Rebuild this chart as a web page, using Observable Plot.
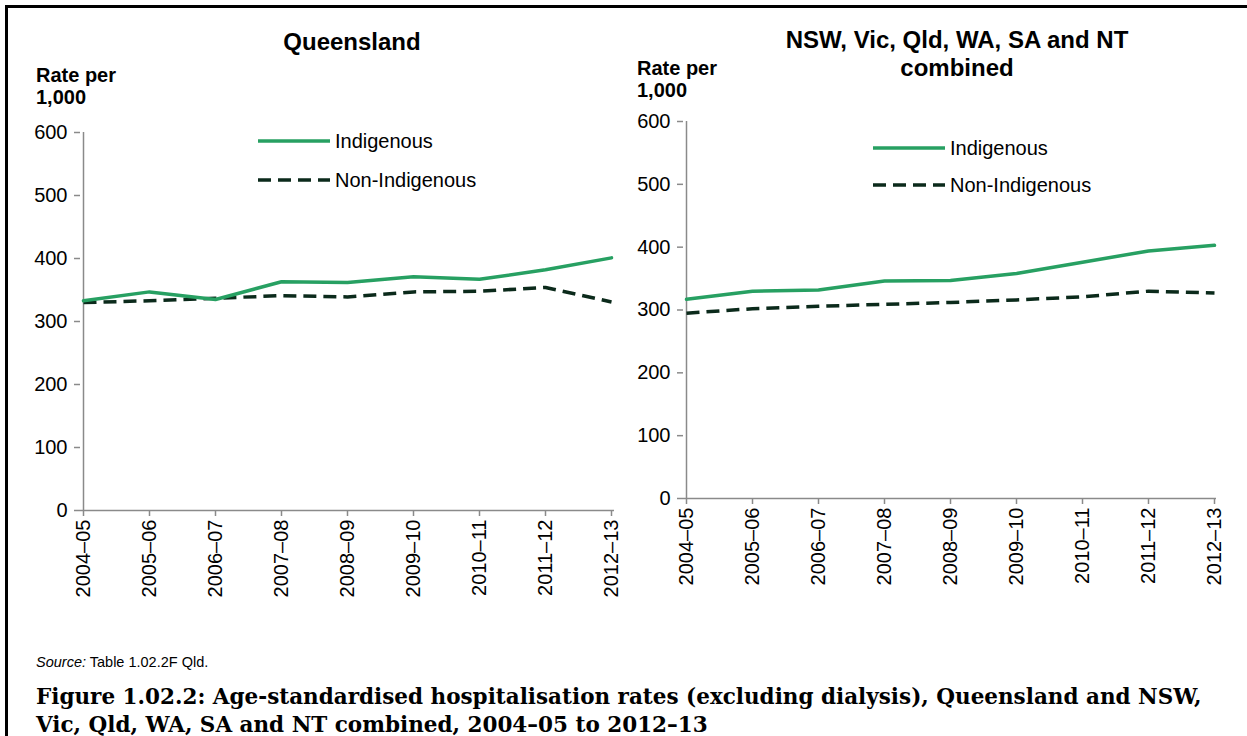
<!DOCTYPE html>
<html><head><meta charset="utf-8">
<script src="https://cdn.jsdelivr.net/npm/d3@7"></script>
<script src="https://cdn.jsdelivr.net/npm/@observablehq/plot@0.6"></script>
<style>
body{margin:0;background:#fff;width:1247px;height:736px;position:relative;overflow:hidden;font-family:"Liberation Sans",Arial,sans-serif;color:#000;}
.abs{position:absolute;white-space:nowrap;line-height:1;}
.title{font-weight:bold;font-size:24px;text-align:center;}
.ylab{font-weight:bold;font-size:20px;line-height:22px;}
.leg{font-size:20px;display:flex;align-items:center;}
.leg svg{display:block;margin-right:5px;}
[aria-label="x-axis tick"],[aria-label="y-axis tick"]{stroke:#8a8a8a;stroke-width:1.5px;}
[aria-label="x-axis"] .tick line,[aria-label="y-axis"] .tick line{stroke:#8a8a8a;stroke-width:1.5px;}
.cap{font-family:"DejaVu Serif",serif;font-weight:bold;font-size:21.5px;line-height:28px;}
</style></head><body>
<div style="position:absolute;left:5px;top:5px;width:1400px;height:900px;border-top:3px solid #000;border-left:3px solid #000;"></div>
<div id="left" class="abs" style="left:0;top:0"></div>
<div id="right" class="abs" style="left:603px;top:0"></div>

<div class="abs title" style="left:252px;top:30px;width:200px;">Queensland</div>
<div class="abs title" style="left:757px;top:26px;width:400px;line-height:28px;">NSW, Vic, Qld, WA, SA and NT<br>combined</div>

<div class="abs ylab" style="left:36px;top:64px;">Rate per<br>1,000</div>
<div class="abs ylab" style="left:637px;top:57px;">Rate per<br>1,000</div>

<div id="legL" class="abs" style="left:258px;top:128px;"></div>
<div id="legR" class="abs" style="left:873px;top:135px;"></div>

<div class="abs" style="left:36px;top:655px;font-size:14.5px;"><i>Source:</i> Table 1.02.2F Qld.</div>
<div class="abs cap" style="left:36px;top:683px;">Figure 1.02.2: Age-standardised hospitalisation rates (excluding dialysis), Queensland and NSW,<br>Vic, Qld, WA, SA and NT combined, 2004–05 to 2012–13</div>

<script>
const years = ["2004–05","2005–06","2006–07","2007–08","2008–09","2009–10","2010–11","2011–12","2012–13"];
const yTicks = [0,100,200,300,400,500,600];
const seriesNames = ["Indigenous","Non-Indigenous"];
const qldIndigenous    = [333,347,335,363,362,371,367,382,401];
const qldNonIndigenous = [330,333,337,341,339,347,348,354,331];
const comIndigenous    = [317,330,332,346,347,358,376,394,403];
const comNonIndigenous = [295,302,306,309,312,316,321,330,327];

const green = "#27a062";
const dark = "#0b2a1b";
const axisGrey = "#8a8a8a";
const dash = "13,7";

function rows(a, b){
  return years.flatMap((y,i)=>[
    {year:y, series:seriesNames[0], value:a[i]},
    {year:y, series:seriesNames[1], value:b[i]}
  ]);
}

function chart(a, b, m){
  const data = rows(a,b);
  return Plot.plot({
    width: 630, height: 620,
    marginTop: m.top, marginBottom: m.bottom, marginLeft: 80, marginRight: m.right,
    style:{background:"transparent",fontSize:"20px",fontFamily:"'Liberation Sans', Arial, sans-serif",color:"#000",overflow:"visible"},
    x:{type:"point", domain:years, padding:0, tickRotate:-90, tickSize:6, tickPadding:3, label:null},
    y:{domain:[0,600], ticks:yTicks, tickSize:6, tickPadding:7, label:null},
    marks:[
      Plot.ruleY([0],{stroke:axisGrey, strokeWidth:1.5}),
      Plot.ruleX([years[0]],{stroke:axisGrey, strokeWidth:1.5}),
      Plot.line(data.filter(d=>d.series===seriesNames[1]),{x:"year",y:"value",stroke:dark,strokeWidth:3.5,strokeDasharray:dash,strokeLinecap:"butt"}),
      Plot.line(data.filter(d=>d.series===seriesNames[0]),{x:"year",y:"value",stroke:green,strokeWidth:3.5})
    ]
  });
}

document.getElementById("left").appendChild(chart(qldIndigenous, qldNonIndigenous, {top:132, bottom:110, right:16}));
document.getElementById("right").appendChild(chart(comIndigenous, comNonIndigenous, {top:121, bottom:122, right:17}));

function legend(el, gap){
  const items = [
    {name:seriesNames[0], color:green, dash:null},
    {name:seriesNames[1], color:dark, dash:dash}
  ];
  el.innerHTML = items.map((it,i)=>`<div class="leg" style="height:26px;margin-bottom:${i===0?gap:0}px;"><svg width="72" height="6"><line x1="0" x2="72" y1="3" y2="3" stroke="${it.color}" stroke-width="3.5" ${it.dash?`stroke-dasharray="${it.dash}"`:""}/></svg><span>${it.name}</span></div>`).join("");
}
legend(document.getElementById("legL"), 13);
legend(document.getElementById("legR"), 11);
</script>
</body></html>
